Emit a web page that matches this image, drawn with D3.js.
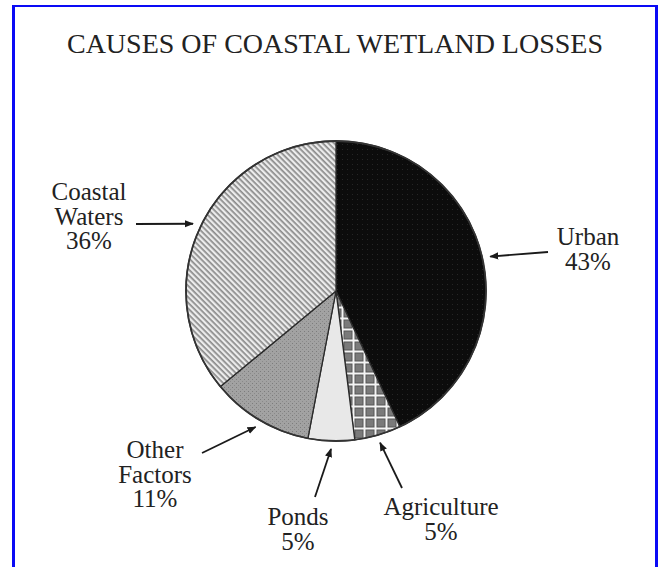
<!DOCTYPE html>
<html>
<head>
<meta charset="utf-8">
<script src="https://cdn.jsdelivr.net/npm/d3@7"></script>
<style>
  body { margin: 0; background: #fff; }
  svg { display: block; }
</style>
</head>
<body>
<svg width="659" height="567"></svg>
<script>
// chart data
const title = 'CAUSES OF COASTAL WETLAND LOSSES'
const causes = ['Urban', 'Agriculture', 'Ponds', 'Other Factors', 'Coastal Waters']
const shares = [43, 5, 5, 11, 36]
// label lines as printed next to each slice
const labelLines = [['Urban', '43%'], ['Agriculture', '5%'], ['Ponds', '5%'], ['Other', 'Factors', '11%'], ['Coastal', 'Waters', '36%']]

// layout: where each label block sits and where its arrow starts
const labelLayout = [
  { x: 588, y: 245, tail: [548, 252] },
  { x: 441, y: 515, tail: [402, 488] },
  { x: 298, y: 525, tail: [315, 497] },
  { x: 155, y: 458, tail: [202, 453] },
  { x: 89, y: 200, tail: [136, 224] }
]

const serif = "'Liberation Serif', 'DejaVu Serif', 'Noto Serif', 'Times New Roman', Times, serif"

const svg = d3.select('svg')
const defs = svg.append('defs')

// coastal waters: fine diagonal hatch
const hatch = defs.append('pattern')
  .attr('id', 'hatch')
  .attr('patternUnits', 'userSpaceOnUse')
  .attr('width', 4).attr('height', 4)
  .attr('patternTransform', 'rotate(45)')
hatch.append('rect').attr('width', 4).attr('height', 4).attr('fill', '#ececec')
hatch.append('rect').attr('width', 4).attr('height', 1.7).attr('fill', '#8a8a8a')

// agriculture: grey blocks on white
const blocks = defs.append('pattern')
  .attr('id', 'blocks')
  .attr('patternUnits', 'userSpaceOnUse')
  .attr('x', 336).attr('y', 291)
  .attr('width', 11).attr('height', 11)
blocks.append('rect').attr('width', 11).attr('height', 11).attr('fill', '#f4f4f4')
blocks.append('rect').attr('x', 2).attr('y', 2).attr('width', 8).attr('height', 8)
  .attr('fill', '#7a7a7a').attr('stroke', '#555').attr('stroke-width', 1)

// other factors: stippled mid grey
const stipple = defs.append('pattern')
  .attr('id', 'stipple')
  .attr('patternUnits', 'userSpaceOnUse')
  .attr('width', 4).attr('height', 4)
stipple.append('rect').attr('width', 4).attr('height', 4).attr('fill', '#a2a2a2')
stipple.append('rect').attr('x', 0).attr('y', 0).attr('width', 1).attr('height', 1).attr('fill', '#7c7c7c')
stipple.append('rect').attr('x', 2).attr('y', 2).attr('width', 1).attr('height', 1).attr('fill', '#8a8a8a')

// urban: near black with faint grain
const grain = defs.append('pattern')
  .attr('id', 'grain')
  .attr('patternUnits', 'userSpaceOnUse')
  .attr('width', 5).attr('height', 5)
grain.append('rect').attr('width', 5).attr('height', 5).attr('fill', '#0c0c0c')
grain.append('rect').attr('x', 1).attr('y', 3).attr('width', 1).attr('height', 1).attr('fill', '#262626')

const fills = ['url(#grain)', 'url(#blocks)', '#e8e8e8', 'url(#stipple)', 'url(#hatch)']

const arrowHead = defs.append('marker')
  .attr('id', 'head')
  .attr('viewBox', '0 0 10 10')
  .attr('refX', 9).attr('refY', 5)
  .attr('markerWidth', 5).attr('markerHeight', 5)
  .attr('orient', 'auto')
arrowHead.append('path').attr('d', 'M0,1 L10,5 L0,9 Z').attr('fill', '#1a1a1a')

// blue frame round the figure (open at the bottom)
const frame = svg.append('g').attr('fill', 'none').attr('stroke', '#0a0af5')
frame.append('line').attr('x1', 13.5).attr('x2', 13.5).attr('y1', 5).attr('y2', 567).attr('stroke-width', 3)
frame.append('line').attr('x1', 12).attr('x2', 658).attr('y1', 6).attr('y2', 6).attr('stroke-width', 2)
frame.append('line').attr('x1', 656.5).attr('x2', 656.5).attr('y1', 5).attr('y2', 567).attr('stroke-width', 3)

svg.append('text')
  .attr('x', 335).attr('y', 53)
  .attr('text-anchor', 'middle')
  .attr('font-family', serif)
  .attr('font-size', 28)
  .attr('fill', '#222')
  .text(title)

const cx = 336, cy = 291, radius = 150

const pie = d3.pie().sort(null).value(d => d)
const arcs = pie(shares)
const arc = d3.arc().innerRadius(0).outerRadius(radius)

const pieGroup = svg.append('g').attr('transform', `translate(${cx},${cy})`)

pieGroup.selectAll('path')
  .data(arcs)
  .enter()
  .append('path')
  .attr('d', arc)
  .attr('fill', (d, i) => fills[i])
  .attr('stroke', '#2a2a2a')
  .attr('stroke-width', 1.3)
  .attr('stroke-linejoin', 'round')

pieGroup.append('circle')
  .attr('r', radius)
  .attr('fill', 'none')
  .attr('stroke', '#333')
  .attr('stroke-width', 1.8)

// arrows point at the middle of each slice, just outside the rim
const tipArc = d3.arc().innerRadius(radius + 8).outerRadius(radius + 8)
svg.append('g')
  .selectAll('line')
  .data(arcs)
  .enter()
  .append('line')
  .attr('x1', (d, i) => labelLayout[i].tail[0])
  .attr('y1', (d, i) => labelLayout[i].tail[1])
  .attr('x2', d => cx + tipArc.centroid(d)[0])
  .attr('y2', d => cy + tipArc.centroid(d)[1])
  .attr('stroke', '#1a1a1a')
  .attr('stroke-width', 1.8)
  .attr('marker-end', 'url(#head)')

const labels = svg.append('g')
  .attr('font-family', serif)
  .attr('font-size', 25)
  .attr('fill', '#222')
  .selectAll('text')
  .data(causes)
  .enter()
  .append('text')
  .attr('text-anchor', 'middle')
  .attr('x', (d, i) => labelLayout[i].x)
  .attr('y', (d, i) => labelLayout[i].y)

labels.selectAll('tspan')
  .data((d, i) => labelLines[i])
  .enter()
  .append('tspan')
  .attr('x', function () { return this.parentNode.getAttribute('x') })
  .attr('dy', (d, j) => j === 0 ? 0 : 24.5)
  .text(d => d)
</script>
</body>
</html>
